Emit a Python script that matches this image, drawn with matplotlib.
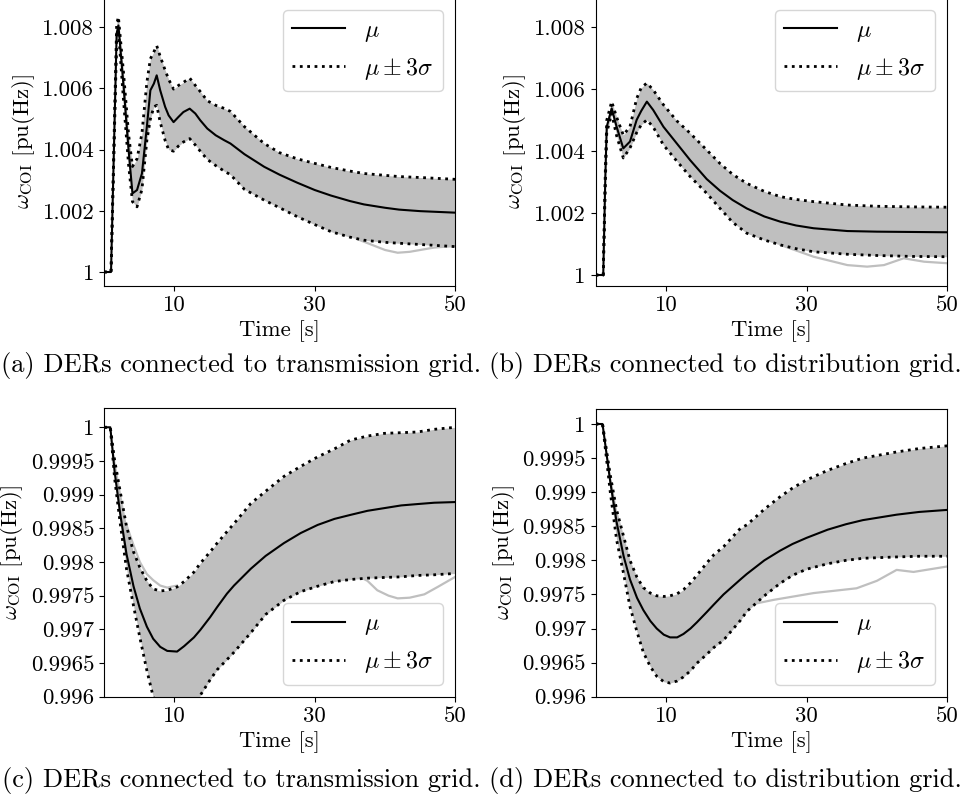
import matplotlib
matplotlib.use("Agg")
import matplotlib.pyplot as plt
import numpy as np

plt.rcParams["font.family"] = "serif"
plt.rcParams["font.serif"] = ["cmr10"]
plt.rcParams["mathtext.fontset"] = "cm"
plt.rcParams["axes.formatter.use_mathtext"] = True
plt.rcParams["axes.unicode_minus"] = False

GRAY = "#bfbfbf"
FS = 16.4

# ---- (a) transmission grid, overfrequency ----
t_a = [0, 1.0, 1.8, 2.05, 2.75, 3.5, 4.05, 4.7, 5.4, 6.1, 6.6, 7.1, 7.5, 8.0, 8.7, 9.2,
       9.9, 10.6, 11.3, 12.2, 13.0, 13.7, 14.7, 15.9, 17.1, 18.0, 20.0, 22.8, 25.0, 27.5,
       30.0, 32.3, 35.0, 37.0, 40.0, 42.0, 45.0, 50.0]
mu_a = [1.0, 1.0, 1.0078, 1.00806, 1.00616, 1.00398, 1.00257, 1.00268, 1.00322, 1.00475,
        1.00594, 1.00616, 1.00643, 1.00594, 1.0054, 1.00512, 1.0049, 1.00507, 1.00523,
        1.00534, 1.00518, 1.00496, 1.00469, 1.00447, 1.00431, 1.0042, 1.00385, 1.00344,
        1.00318, 1.00292, 1.00268, 1.0025, 1.00232, 1.00221, 1.0021, 1.00204, 1.00199,
        1.00194]
up_a = [1.0, 1.0, 1.0081, 1.00834, 1.0066, 1.0045, 1.00345, 1.0037, 1.00453, 1.0062,
        1.00697, 1.0072, 1.0074, 1.00705, 1.0066, 1.0063, 1.00598, 1.0061, 1.0062, 1.00634,
        1.0061, 1.0059, 1.0056, 1.00545, 1.00535, 1.00525, 1.00475, 1.0042, 1.0039, 1.0037,
        1.00355, 1.00342, 1.0033, 1.00322, 1.00316, 1.00312, 1.00309, 1.00303]
lo_a = [1.0, 1.0, 1.0075, 1.0079, 1.0057, 1.0035, 1.0023, 1.00213, 1.0027, 1.0043, 1.005,
        1.0054, 1.00545, 1.0049, 1.0043, 1.004, 1.00395, 1.00412, 1.00425, 1.00436, 1.00415,
        1.00395, 1.00368, 1.00348, 1.0033, 1.00318, 1.0027, 1.00235, 1.0021, 1.00181,
        1.00155, 1.00132, 1.00114, 1.00104, 1.00097, 1.00094, 1.0009, 1.00083]
out_t_a = [36.0, 38.0, 40.0, 41.8, 43.5, 45.0, 47.0, 50.0]
out_v_a = [1.00108, 1.0009, 1.00072, 1.00063, 1.00066, 1.00072, 1.0008, 1.00085]

# ---- (b) distribution grid, overfrequency ----
t_b = [0, 1.1, 1.4, 1.6, 2.3, 3.0, 3.95, 4.9, 5.85, 6.5, 7.3, 8.2, 9.65, 11.55, 13.45,
       15.8, 17.7, 19.5, 21.5, 24.0, 26.3, 28.5, 31.0, 35.8, 40.0, 45.0, 50.0]
mu_b = [1.0, 1.0, 1.0032, 1.00479, 1.00538, 1.00479, 1.00409, 1.00431, 1.00501, 1.0053,
        1.0056, 1.00533, 1.00479, 1.00425, 1.00371, 1.0031, 1.00272, 1.00242, 1.00215,
        1.00189, 1.00172, 1.0016, 1.00151, 1.00142, 1.0014, 1.00139, 1.00138]
up_b = [1.0, 1.0, 1.0034, 1.005, 1.0056, 1.0051, 1.00452, 1.00479, 1.0057, 1.00605, 1.0062,
        1.00598, 1.0055, 1.00498, 1.00458, 1.00404, 1.0036, 1.00325, 1.00296, 1.0027,
        1.00253, 1.00244, 1.00237, 1.00226, 1.00222, 1.0022, 1.00219]
lo_b = [1.0, 1.0, 1.003, 1.0046, 1.00522, 1.0045, 1.00378, 1.0041, 1.0046, 1.00485,
        1.00501, 1.00478, 1.0042, 1.00368, 1.00318, 1.00264, 1.00215, 1.0017, 1.00135,
        1.00113, 1.00097, 1.00085, 1.00075, 1.00067, 1.00063, 1.0006, 1.00059]
out_t_b = [26.3, 31.0, 35.8, 38.6, 41.0, 43.8, 46.7, 50.0]
out_v_b = [1.00097, 1.00059, 1.00032, 1.00027, 1.00032, 1.00054, 1.00043, 1.00038]

# ---- (c) transmission grid, underfrequency ----
t_c = [0, 0.9, 1.5, 2.3, 3.2, 4.2, 5.1, 6.1, 7.0, 8.0, 9.0, 10.4, 11.4, 12.8, 13.7, 15.1,
       16.1, 17.5, 18.5, 20.9, 23.0, 25.6, 28.0, 30.4, 32.8, 35.1, 37.5, 39.9, 42.3, 44.6,
       47.0, 50.0]
mu_c = [1.0, 1.0, 0.99935, 0.99872, 0.99812, 0.99764, 0.99731, 0.99704, 0.99686, 0.99674,
        0.99668, 0.99667, 0.99675, 0.99688, 0.99699, 0.99718, 0.99733, 0.99753, 0.99765,
        0.9979, 0.99809, 0.99828, 0.99843, 0.99855, 0.99864, 0.9987, 0.99876, 0.9988,
        0.99884, 0.99886, 0.99888, 0.99889]
up_c = [1.0, 1.0, 0.99952, 0.99905, 0.99853, 0.99815, 0.99792, 0.99772, 0.9976, 0.99757,
        0.99758, 0.99763, 0.99771, 0.99785, 0.99798, 0.99815, 0.99828, 0.99845, 0.99857,
        0.99887, 0.99905, 0.99927, 0.99942, 0.99956, 0.99968, 0.99981, 0.99987, 0.99991,
        0.99992, 0.99993, 0.99997, 1.0]
lo_c = [1.0, 1.0, 0.99925, 0.99858, 0.99790, 0.99735, 0.99688, 0.99639, 0.996, 0.99572,
        0.99555, 0.9955, 0.99555, 0.99575, 0.99602, 0.99625, 0.9964, 0.99655, 0.99666,
        0.99695, 0.99722, 0.99743, 0.99756, 0.99764, 0.99771, 0.99774, 0.99776, 0.99777,
        0.99778, 0.9978, 0.99781, 0.99783]
out_t_c = [35.1, 37.5, 38.9, 40.5, 41.8, 43.5, 45.6, 47.5, 50.0]
out_v_c = [0.99785, 0.99772, 0.99758, 0.9975, 0.99746, 0.99747, 0.99752, 0.99763, 0.99778]
hi_t_c = [3.2, 4.2, 5.1, 6.1, 7.0, 8.0, 9.0, 10.4]
hi_v_c = [0.99855, 0.99825, 0.998, 0.99782, 0.99773, 0.99765, 0.99762, 0.99765]

# ---- (d) distribution grid, underfrequency ----
t_d = [0, 1.0, 2.1, 3.0, 4.0, 4.9, 5.9, 6.8, 7.8, 8.7, 9.7, 10.6, 11.6, 12.5, 13.5, 14.4,
       15.8, 16.8, 18.2, 20.6, 21.5, 24.0, 26.2, 28.0, 30.0, 33.0, 35.6, 38.0, 42.8, 46.0,
       50.0]
mu_d = [1.0, 1.0, 0.99915, 0.99856, 0.99806, 0.99772, 0.99745, 0.99727, 0.99711, 0.997,
        0.99691, 0.99687, 0.99687, 0.99692, 0.997, 0.99709, 0.99724, 0.99735, 0.9975,
        0.99772, 0.9978, 0.998, 0.99814, 0.99824, 0.99833, 0.99845, 0.99853, 0.99859,
        0.99867, 0.99871, 0.99874]
up_d = [1.0, 1.0, 0.99925, 0.99874, 0.99835, 0.998, 0.99775, 0.9976, 0.99752, 0.99748,
        0.99747, 0.99748, 0.99751, 0.99757, 0.99767, 0.99778, 0.99796, 0.99808, 0.9982,
        0.99847, 0.99852, 0.99875, 0.99893, 0.99906, 0.99918, 0.99932, 0.99942, 0.9995,
        0.99959, 0.99964, 0.99968]
lo_d = [1.0, 1.0, 0.999, 0.9983, 0.9978, 0.99732, 0.99695, 0.99665, 0.99644, 0.9963,
        0.99622, 0.9962, 0.99623, 0.99629, 0.99638, 0.99649, 0.99662, 0.99672, 0.99683,
        0.99712, 0.99725, 0.99748, 0.99766, 0.99778, 0.99787, 0.99795, 0.998, 0.99803,
        0.99805, 0.99806, 0.99806]
out_t_d = [22.0, 25.3, 31.0, 37.1, 40.0, 42.8, 45.2, 50.0]
out_v_d = [0.99735, 0.99742, 0.99752, 0.99759, 0.9977, 0.99786, 0.99783, 0.99791]

xticks = [10, 30, 50]
yticks_top = [1.0, 1.002, 1.004, 1.006, 1.008]
ylabels_top = ["1", "1.002", "1.004", "1.006", "1.008"]
yticks_bot = [0.996, 0.9965, 0.997, 0.9975, 0.998, 0.9985, 0.999, 0.9995, 1.0]
ylabels_bot = ["0.996", "0.9965", "0.997", "0.9975", "0.998", "0.9985", "0.999", "0.9995", "1"]

captions = ["(a) DERs connected to transmission grid.",
            "(b) DERs connected to distribution grid.",
            "(c) DERs connected to transmission grid.",
            "(d) DERs connected to distribution grid."]

W, H = 966, 811
fig = plt.figure(figsize=(W / 100, H / 100), dpi=100)


def px_axes(left, top, right, bottom):
    return fig.add_axes([left / W, 1 - bottom / H, (right - left) / W, (bottom - top) / H])


def panel(ax, t, mu, up, lo, extras, ylim, yt, yl, loc):
    ax.fill_between(t, lo, up, color=GRAY, lw=0)
    for et, ev in extras:
        ax.plot(et, ev, color=GRAY, lw=1.6)
    ax.plot(t, mu, "k-", lw=1.5, label=r"$\mu$")
    ax.plot(t, up, "k:", lw=2.0, label=r"$\mu \pm 3\sigma$")
    ax.plot(t, lo, "k:", lw=2.0)
    ax.set_xlim(0, 50)
    ax.set_ylim(*ylim)
    ax.set_xticks(xticks)
    ax.set_xticklabels([str(x) for x in xticks])
    ax.set_yticks(yt)
    ax.set_yticklabels(yl)
    ax.tick_params(labelsize=FS)
    ax.set_xlabel("Time [s]", fontsize=FS)
    ax.set_ylabel(r"$\omega_{\mathrm{COI}}$ [pu(Hz)]", fontsize=FS)
    ax.legend(loc=loc, fontsize=17.3, handlelength=2.2)


ax_a = px_axes(104, -2, 455.3, 285.5)
panel(ax_a, t_a, mu_a, up_a, lo_a, [(out_t_a, out_v_a)], (0.999559, 1.008958),
      yticks_top, ylabels_top, "upper right")

ax_b = px_axes(595.5, -2, 947.3, 285.5)
panel(ax_b, t_b, mu_b, up_b, lo_b, [(out_t_b, out_v_b)], (0.999661, 1.008947),
      yticks_top, ylabels_top, "upper right")

ax_c = px_axes(104, 408.3, 455.3, 696.7)
panel(ax_c, t_c, mu_c, up_c, lo_c, [(out_t_c, out_v_c), (hi_t_c, hi_v_c)], (0.996, 1.000282),
      yticks_bot, ylabels_bot, "lower right")

ax_d = px_axes(595.5, 409, 947.3, 696.7)
panel(ax_d, t_d, mu_d, up_d, lo_d, [(out_t_d, out_v_d)], (0.996, 1.00022),
      yticks_bot, ylabels_bot, "lower right")

cap_pos = [(241, 366), (725, 366), (241, 780), (725, 780)]
for (cx, cy), cap in zip(cap_pos, captions):
    fig.text(cx / W, 1 - cy / H, cap, ha="center", va="center", fontsize=19)

fig.savefig("out.png", dpi=100)
